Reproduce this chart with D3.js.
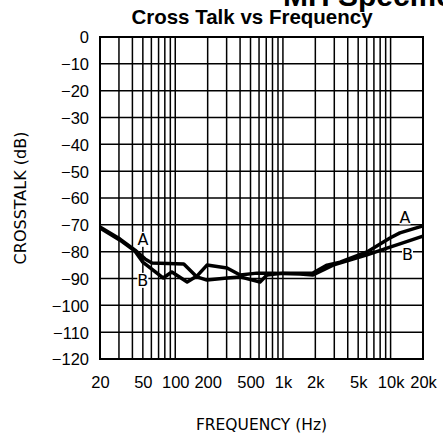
<!DOCTYPE html>
<html>
<head>
<meta charset="utf-8">
<script src="https://cdn.jsdelivr.net/npm/d3@7"></script>
<style>
  html, body { margin: 0; padding: 0; background: #fff; }
  svg { display: block; }
</style>
</head>
<body>
<svg id="chart" width="443" height="437"></svg>
<script>
// Cross talk between channels vs frequency (dB), two measurement directions A and B
const freqA = [20, 30.7, 42.3, 52.4, 60.8, 120, 159, 197, 303, 400, 613, 711, 1000, 1440, 1900, 2570, 3390, 6040, 9870, 12200, 20000];
const dbA   = [-70.8, -75.3, -79.4, -82.7, -84.2, -84.6, -89.4, -90.6, -89.8, -89.4, -91.3, -88.7, -88.0, -88.0, -88.0, -85.0, -83.9, -80.1, -74.9, -73.0, -70.4];

const freqB = [20, 30.7, 42.3, 50, 77, 93, 129, 159, 197, 303, 400, 574, 809, 1440, 1900, 2920, 6040, 9870, 12200, 20000];
const dbB   = [-71.2, -75.7, -79.8, -83.9, -89.8, -87.6, -91.3, -89.1, -85.0, -86.1, -88.7, -88.0, -88.0, -88.3, -88.7, -85.0, -81.2, -78.3, -77.1, -74.2];

// Curve labels: name, frequency, dB
const curveLabels = [
  { name: "A", f: 50,    db: -75.4 },
  { name: "B", f: 50,    db: -90.7 },
  { name: "A", f: 13600, db: -67.1 },
  { name: "B", f: 14360, db: -80.9 }
];

const xTickValues = [20, 50, 100, 200, 500, 1000, 2000, 5000, 10000, 20000];
const xTickLabels = ["20", "50", "100", "200", "500", "1k", "2k", "5k", "10k", "20k"];
const yTickValues = [0, -10, -20, -30, -40, -50, -60, -70, -80, -90, -100, -110, -120];

const svg = d3.select("#chart");
const plot = { left: 100, top: 37, right: 423, bottom: 359 };

const x = d3.scaleLog().domain([20, 20000]).range([plot.left, plot.right]);
const y = d3.scaleLinear().domain([-120, 0]).range([plot.bottom, plot.top]);

// Heading text
svg.append("text")
  .attr("x", 283).attr("y", 6)
  .attr("font-family", "Liberation Sans, Arial, sans-serif")
  .attr("font-weight", "bold")
  .attr("font-size", 30)
  .attr("fill", "#000")
  .text("MH Specifications");

svg.append("text")
  .attr("x", 252).attr("y", 24)
  .attr("text-anchor", "middle")
  .attr("font-family", "Liberation Sans, Arial, sans-serif")
  .attr("font-weight", "bold")
  .attr("font-size", 20.5)
  .attr("fill", "#000")
  .text("Cross Talk vs Frequency");

// Grid
const grid = svg.append("g").attr("stroke", "#000").attr("stroke-width", 1.5);
grid.selectAll("line.v")
  .data(x.ticks())
  .join("line")
  .attr("class", "v")
  .attr("x1", d => x(d)).attr("x2", d => x(d))
  .attr("y1", plot.top).attr("y2", plot.bottom);
grid.selectAll("line.h")
  .data(yTickValues)
  .join("line")
  .attr("class", "h")
  .attr("x1", plot.left).attr("x2", plot.right)
  .attr("y1", d => y(d)).attr("y2", d => y(d));

svg.append("rect")
  .attr("x", plot.left).attr("y", plot.top)
  .attr("width", plot.right - plot.left).attr("height", plot.bottom - plot.top)
  .attr("fill", "none").attr("stroke", "#000").attr("stroke-width", 2);

// Axes (labels only)
const xAxis = d3.axisBottom(x)
  .tickValues(xTickValues)
  .tickFormat((d, i) => xTickLabels[i])
  .tickSize(0).tickPadding(0);
const gx = svg.append("g").attr("transform", `translate(0, ${plot.bottom + 29})`).call(xAxis);
gx.select(".domain").remove();
gx.selectAll("text")
  .attr("dy", 0)
  .attr("font-family", "Liberation Sans, Arial, sans-serif")
  .attr("font-size", 16.5)
  .attr("fill", "#000");

const yAxis = d3.axisLeft(y)
  .tickValues(yTickValues)
  .tickFormat(d => d < 0 ? "\u2212" + Math.abs(d) : String(d))
  .tickSize(0).tickPadding(0);
const gy = svg.append("g").attr("transform", `translate(${plot.left - 11}, 0)`).call(yAxis);
gy.select(".domain").remove();
gy.selectAll("text")
  .attr("dy", "0.36em")
  .attr("font-family", "Liberation Sans, Arial, sans-serif")
  .attr("font-size", 16.5)
  .attr("fill", "#000");

// Axis titles
svg.append("text")
  .attr("x", (plot.left + plot.right) / 2).attr("y", 430)
  .attr("text-anchor", "middle")
  .attr("font-family", "DejaVu Sans, sans-serif")
  .attr("font-size", 15.5)
  .attr("fill", "#000")
  .text("FREQUENCY (Hz)");

svg.append("text")
  .attr("transform", "translate(26, 198) rotate(-90)")
  .attr("text-anchor", "middle")
  .attr("font-family", "DejaVu Sans, sans-serif")
  .attr("font-size", 16)
  .attr("fill", "#000")
  .text("CROSSTALK (dB)");

// Curves
const line = d3.line().x(d => x(d[0])).y(d => y(d[1]));
const seriesA = freqA.map((f, i) => [f, dbA[i]]);
const seriesB = freqB.map((f, i) => [f, dbB[i]]);

svg.append("g")
  .selectAll("path")
  .data([seriesA, seriesB])
  .join("path")
  .attr("d", line)
  .attr("fill", "none")
  .attr("stroke", "#000")
  .attr("stroke-width", 3.5)
  .attr("stroke-linejoin", "round");

// Curve labels with white backing
const lab = svg.append("g").selectAll("g").data(curveLabels).join("g")
  .attr("transform", d => `translate(${x(d.f)}, ${y(d.db)})`);
lab.append("rect")
  .attr("x", -5.5).attr("y", -7.5).attr("width", 11).attr("height", 15)
  .attr("fill", "#fff");
lab.append("text")
  .attr("text-anchor", "middle")
  .attr("dy", "0.36em")
  .attr("font-family", "DejaVu Sans, sans-serif")
  .attr("font-size", 16)
  .attr("fill", "#000")
  .text(d => d.name);
</script>
</body>
</html>
